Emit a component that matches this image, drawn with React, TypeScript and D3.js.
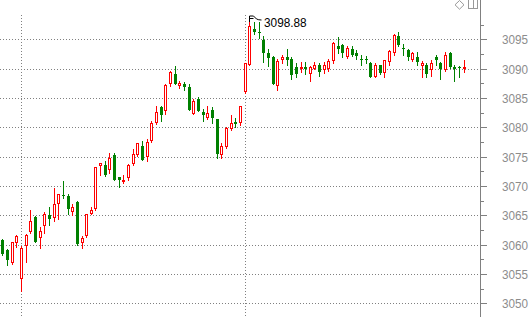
import React from 'react';
import * as d3 from 'd3';

const W = 531;
const H = 317;

const opens = [
  3060.8, 3059.1, 3056.8, 3060.2, 3054.1, 3059.7, 3062.1, 3064.7, 3061.2, 3063.1,
  3065.0, 3064.5, 3066.9, 3068.5, 3068.3, 3065.6, 3067.3, 3060.2, 3061.4, 3065.3,
  3066.0, 3073.4, 3073.6, 3072.8, 3075.2, 3071.5, 3070.6, 3071.4, 3073.7, 3075.2,
  3076.8, 3074.9, 3077.6, 3080.7, 3083.5, 3082.7, 3087.3, 3089.1, 3087.0, 3087.4,
  3086.9, 3082.3, 3084.8, 3082.6, 3081.6, 3083.0, 3081.4, 3075.2, 3076.6, 3079.7,
  3080.9, 3080.7, 3086.0, 3090.7, 3096.7, 3096.3, 3094.9, 3092.7, 3092.0, 3087.0,
  3091.5, 3091.9, 3091.7, 3090.3, 3089.9, 3090.2, 3089.0, 3090.0, 3090.6, 3089.8,
  3089.9, 3091.3, 3093.9, 3094.0, 3091.9, 3093.3, 3092.7, 3091.7, 3091.6, 3091.0,
  3088.6, 3090.6, 3089.2, 3091.1, 3092.7, 3095.6, 3093.5, 3093.2, 3091.4, 3092.0,
  3090.5, 3090.7, 3089.7, 3091.9, 3090.9, 3089.7, 3092.7, 3090.2, 3090.3, 3090.0,
];
const highs = [
  3060.9, 3059.2, 3060.5, 3061.6, 3059.8, 3061.8, 3065.9, 3064.8, 3063.0, 3065.5,
  3066.4, 3069.7, 3068.7, 3070.9, 3068.6, 3066.9, 3067.4, 3061.5, 3065.3, 3066.4,
  3073.3, 3074.0, 3074.3, 3075.6, 3075.7, 3071.6, 3071.8, 3073.7, 3076.3, 3077.4,
  3077.7, 3078.0, 3081.0, 3083.6, 3083.6, 3087.3, 3089.6, 3090.5, 3087.9, 3087.8,
  3087.3, 3084.8, 3085.1, 3083.1, 3083.6, 3083.5, 3081.5, 3077.4, 3080.0, 3082.1,
  3081.6, 3083.7, 3091.0, 3098.88, 3097.9, 3097.9, 3095.6, 3093.3, 3092.2, 3091.6,
  3092.4, 3093.3, 3091.9, 3091.0, 3091.1, 3091.1, 3090.4, 3091.1, 3090.9, 3091.2,
  3091.6, 3094.5, 3095.4, 3094.2, 3093.9, 3093.9, 3093.2, 3092.4, 3092.1, 3091.2,
  3090.9, 3090.7, 3091.5, 3093.1, 3095.9, 3096.3, 3094.2, 3093.3, 3092.8, 3092.9,
  3091.3, 3091.0, 3091.4, 3092.4, 3091.2, 3092.9, 3092.8, 3090.6, 3090.5, 3091.4,
];
const lows = [
  3058.3, 3056.6, 3056.7, 3059.6, 3052.1, 3057.1, 3062.0, 3060.4, 3059.5, 3061.9,
  3063.4, 3064.1, 3064.3, 3068.0, 3065.3, 3065.0, 3060.0, 3059.5, 3061.3, 3065.2,
  3065.9, 3071.9, 3071.7, 3072.2, 3071.0, 3069.9, 3070.5, 3071.0, 3073.6, 3075.1,
  3074.4, 3074.3, 3077.5, 3080.6, 3081.1, 3082.2, 3087.0, 3087.3, 3086.7, 3086.4,
  3083.0, 3082.2, 3082.7, 3081.0, 3081.5, 3080.7, 3074.8, 3074.8, 3076.5, 3079.6,
  3080.0, 3080.4, 3085.9, 3090.6, 3095.9, 3095.3, 3091.1, 3090.5, 3087.3, 3086.4,
  3091.0, 3090.7, 3088.2, 3088.6, 3089.5, 3089.0, 3087.9, 3089.9, 3088.8, 3089.3,
  3089.6, 3091.0, 3092.6, 3092.0, 3091.8, 3092.1, 3091.7, 3090.7, 3090.9, 3088.6,
  3088.5, 3089.1, 3088.5, 3090.7, 3092.4, 3093.8, 3092.4, 3091.5, 3091.3, 3090.7,
  3088.6, 3088.5, 3088.8, 3090.7, 3088.3, 3089.6, 3090.1, 3087.9, 3088.5, 3089.5,
];
const closes = [
  3058.4, 3057.3, 3060.4, 3061.4, 3059.4, 3061.7, 3064.0, 3060.5, 3062.3, 3065.2,
  3064.4, 3067.0, 3068.6, 3068.3, 3066.0, 3066.4, 3060.1, 3061.1, 3065.2, 3065.9,
  3073.2, 3073.9, 3071.8, 3074.7, 3071.1, 3071.0, 3071.0, 3073.6, 3075.4, 3077.3,
  3074.5, 3077.5, 3080.7, 3082.6, 3082.1, 3087.2, 3089.5, 3087.4, 3087.6, 3086.8,
  3083.0, 3084.5, 3082.7, 3082.1, 3082.4, 3081.6, 3075.4, 3076.8, 3079.9, 3080.7,
  3080.6, 3083.6, 3090.9, 3097.3, 3096.2, 3096.2, 3092.7, 3091.8, 3087.4, 3091.3,
  3092.0, 3091.4, 3088.9, 3089.1, 3090.3, 3090.0, 3090.3, 3090.6, 3089.5, 3090.6,
  3091.3, 3094.4, 3093.4, 3092.7, 3093.5, 3092.4, 3092.2, 3091.5, 3091.4, 3088.6,
  3090.6, 3089.2, 3091.4, 3093.0, 3095.8, 3094.0, 3093.3, 3092.0, 3092.7, 3091.2,
  3090.9, 3089.0, 3090.9, 3091.5, 3089.9, 3092.3, 3090.2, 3090.0, 3090.1, 3090.3,
];

const yTickValues = [3050, 3055, 3060, 3065, 3070, 3075, 3080, 3085, 3090, 3095];
const yMinorValues = [3047.5, 3052.5, 3057.5, 3062.5, 3067.5, 3072.5, 3077.5, 3082.5, 3087.5, 3092.5, 3097.5];
const sessionBreaks = [4, 52];
const peakIndex = 53;
const peakLabel = '3098.88';

const RED = '#ff0000';
const GREEN = '#008000';
const GRID = '#808080';

export default function App() {
  const x = d3.scaleLinear().domain([0, opens.length - 1]).range([2.3, 463.6]);
  const y = d3.scaleLinear().domain([3050, 3095]).range([303.3, 39.3]);
  const axisX = 480.5;
  const py = (v: number) => Math.round(y(v)) + 0.5;
  const font = "'Liberation Sans', Arial, sans-serif";

  const peakX = Math.round(x(peakIndex)) + 0.5;
  const peakY = Math.round(y(highs[peakIndex]));

  return (
    <svg width={W} height={H} style={{ position: 'absolute', left: 0, top: 0, background: '#fff' }}>
      <rect x={0} y={0} width={W} height={H} fill="#fff" />
      {/* horizontal grid */}
      {yTickValues.map((v) => (
        <line key={'g' + v} x1={0} x2={axisX} y1={py(v)} y2={py(v)} stroke={GRID}
          strokeWidth={1} strokeDasharray="1 2" shapeRendering="crispEdges" />
      ))}
      {/* session separators */}
      {sessionBreaks.map((i) => (
        <line key={'s' + i} x1={Math.round(x(i)) + 0.5} x2={Math.round(x(i)) + 0.5} y1={15} y2={H}
          stroke={GRID} strokeWidth={1} strokeDasharray="1 2" shapeRendering="crispEdges" />
      ))}
      {/* candles */}
      {opens.map((o, i) => {
        const c = closes[i];
        const up = c >= o;
        const cx = Math.round(x(i));
        const top = Math.round(y(Math.max(o, c)));
        const bot = Math.round(y(Math.min(o, c)));
        const hy = Math.round(y(highs[i]));
        const ly = Math.round(y(lows[i]));
        const col = up ? RED : GREEN;
        return (
          <g key={i} shapeRendering="crispEdges">
            <line x1={cx + 0.5} x2={cx + 0.5} y1={hy} y2={ly + 1} stroke={col} strokeWidth={1} />
            {up ? (
              <rect x={cx - 0.5} y={top + 0.5} width={2} height={Math.max(1, bot - top - 1)}
                fill="#fff" stroke={col} strokeWidth={1} />
            ) : (
              <rect x={cx - 1} y={top} width={3} height={Math.max(1, bot - top)} fill={col} />
            )}
          </g>
        );
      })}
      {/* axis */}
      <line x1={axisX} x2={axisX} y1={0} y2={H} stroke={GRID} strokeWidth={1} shapeRendering="crispEdges" />
      {yTickValues.map((v) => (
        <line key={'t' + v} x1={axisX} x2={axisX + 6} y1={py(v)} y2={py(v)} stroke={GRID}
          strokeWidth={1} shapeRendering="crispEdges" />
      ))}
      {yMinorValues.map((v) => (
        <line key={'m' + v} x1={axisX} x2={axisX + 3} y1={py(v)} y2={py(v)} stroke={GRID}
          strokeWidth={1} shapeRendering="crispEdges" />
      ))}
      {yTickValues.map((v) => (
        <text key={'l' + v} x={502} y={y(v) + 0.5} dominantBaseline="central" fontFamily={font}
          fontSize={13} fill="#8c8c8c" textLength={26} lengthAdjust="spacingAndGlyphs">{v}</text>
      ))}
      {/* peak annotation */}
      <path d={`M${peakX},${peakY + 5} V${peakY - 1} H${peakX + 4} L${peakX + 7},${peakY + 2} Q${peakX + 9},${peakY + 3} ${peakX + 12},${peakY + 3}`}
        fill="none" stroke="#000" strokeWidth={1} />
      <line x1={peakX} x2={peakX + 4} y1={peakY + 1.5} y2={peakY + 1.5} stroke="#000" strokeWidth={1} />
      <text x={264} y={27.3} fontFamily={font} fontSize={13} fill="#000" textLength={42.7}
        lengthAdjust="spacingAndGlyphs">{peakLabel}</text>
      {/* top-right icons */}
      <polygon points="459.5,0.5 464,4.8 459.5,9.2 455,4.8" fill="#fff" stroke="#999" strokeWidth={1} />
      <rect x={468.5} y={-1} width={9} height={9.5} fill="#fff" stroke="#999" strokeWidth={1} />
      <line x1={473.5} x2={473.5} y1={0} y2={8.5} stroke="#999" strokeWidth={1} />
    </svg>
  );
}
